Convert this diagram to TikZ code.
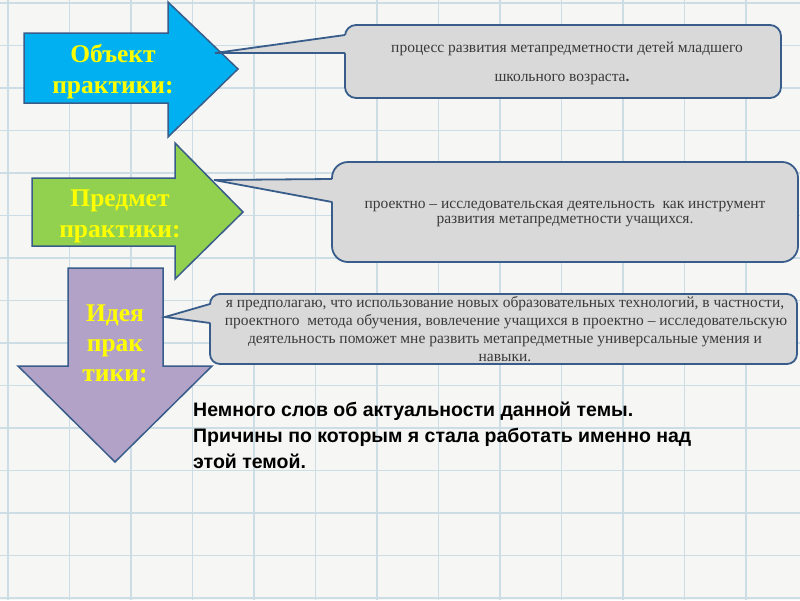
\documentclass[tikz,border=0pt]{standalone}
\usepackage{fontspec}
\setmainfont{Liberation Serif}
\newfontfamily\sansb{Liberation Sans}
\definecolor{bgc}{HTML}{F6F6F5}
\definecolor{gridc}{HTML}{CCDDE6}
\definecolor{outl}{HTML}{385D8A}
\definecolor{bluef}{HTML}{00B0F0}
\definecolor{greenf}{HTML}{92D050}
\definecolor{purplef}{HTML}{B3A2C7}
\definecolor{callf}{HTML}{D9D9D9}
\definecolor{calltxt}{HTML}{3A3A3A}
\definecolor{yel}{HTML}{FFFF00}
\tikzset{
  gridline/.style={draw=gridc, line width=1.5pt},
  arrowshape/.style={draw=outl, line width=1.5pt, line join=miter},
  callbox/.style={draw=outl, fill=callf, line width=1.8pt},
  callptr/.style={draw=outl, line width=1.8pt, line join=miter},
  arrowtxt/.style={text=yel, font=\fontsize{25.5}{31}\selectfont\bfseries, align=center, inner sep=0pt},
  calltext/.style={text=calltxt, font=\fontsize{15.5}{18}\selectfont, anchor=base, inner sep=0pt},
  maintext/.style={text=black, font=\sansb\fontsize{19.5}{26}\selectfont\bfseries, anchor=base west, inner sep=0pt}
}
\begin{document}
\begin{tikzpicture}[x=1pt,y=-1pt]
\useasboundingbox (0,0) rectangle (800,600);
\fill[bgc] (0,0) rectangle (800,600);
\foreach \gx in {8,69.5,131,192.5,254,315.5,377,438.5,500,561.5,623,684.5,746}
  \draw[gridline] (\gx,0) -- (\gx,600);
\foreach \gy in {3,45.5,88,130.5,173,215.5,258,300.5,343,385.5,428,470.5,513,555.5,598}
  \draw[gridline] (0,\gy) -- (800,\gy);

% arrows
\draw[arrowshape, fill=bluef] (24,33) -- (168,33) -- (168,2) -- (238,69) -- (168,137) -- (168,103) -- (24,103) -- cycle;
\draw[arrowshape, fill=greenf] (32,178) -- (175,178) -- (175,143) -- (243,212) -- (175,279) -- (175,246) -- (32,246) -- cycle;
\draw[arrowshape, fill=purplef] (68,268) -- (163,268) -- (163,366) -- (212,366) -- (115,462) -- (18,366) -- (68,366) -- cycle;

\node[arrowtxt] (a1) at (113,72) {Объект\\практики:};
\node[arrowtxt] (a2) at (120,216) {Предмет\\практики:};
\node[arrowtxt, font=\fontsize{25.5}{30}\selectfont\bfseries] (a3) at (115,343) {Идея\\прак\\тики:};

% callout 1
\coordinate (p1) at (215,53);
\draw[callbox, rounded corners=11] (345,25) rectangle (781,98);
\fill[callf] (p1) -- (347,35) -- (347,53) -- cycle;
\draw[callptr] (345,35) -- (p1) -- (345,53);

% callout 2
\coordinate (p2) at (214,180);
\draw[callbox, rounded corners=16] (332,162) rectangle (798,262);
\fill[callf] (p2) -- (335,179) -- (335,202) -- cycle;
\draw[callptr] (332,179) -- (p2) -- (332,202);

% callout 3
\coordinate (p3) at (165,317);
\draw[callbox, rounded corners=10] (210,294) rectangle (797,364);
\fill[callf] (p3) -- (213,304) -- (213,323) -- cycle;
\draw[callptr] (210,304) -- (p3) -- (210,323);

% callout texts
\node[calltext] (c1a) at (567,52) {процесс развития метапредметности детей младшего};
\node[calltext] (c1b) at (562,81) {школьного возраста\textbf{.}};
\node[calltext] (c2a) at (565,208) {проектно – исследовательская деятельность \ как инструмент};
\node[calltext] (c2b) at (565,223) {развития метапредметности учащихся.};
\node[calltext] (c3a) at (505,307) {я предполагаю, что использование новых образовательных технологий, в частности,};
\node[calltext] (c3b) at (506,325) {проектного \ метода обучения, вовлечение учащихся в проектно – исследовательскую};
\node[calltext] (c3c) at (505,343) {деятельность поможет мне развить метапредметные универсальные умения и};
\node[calltext] (c3d) at (505,361) {навыки.};

% main text
\node[maintext] (m1) at (193,416) {Немного слов об актуальности данной темы.};
\node[maintext] (m2) at (193,442) {Причины по которым я стала работать именно над};
\node[maintext] (m3) at (193,468) {этой темой.};
\end{tikzpicture}
\end{document}
